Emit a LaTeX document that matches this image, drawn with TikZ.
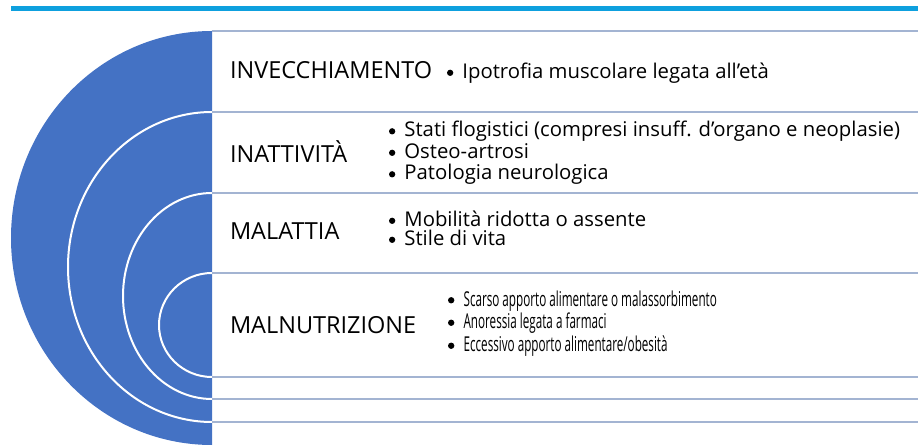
\documentclass[tikz,border=0pt]{standalone}
\usepackage{fontspec}
\setmainfont{Open Sans}
\newfontfamily\narrowfont[FakeStretch=0.57]{Open Sans}
\definecolor{topbar}{RGB}{14,160,222}
\definecolor{halfdisk}{RGB}{68,114,196}
\definecolor{rowline}{RGB}{163,180,210}
\newcommand\bul{\tikz[baseline=0pt]\fill (0pt,0.28em) circle[radius=0.155em];\hspace{0.45em}}

\begin{document}
\begin{tikzpicture}[x=1pt,y=-1pt,
    every node/.style={inner sep=0,outer sep=0,anchor=base west},
    factor/.style={font=\fontsize{23.5}{26}\selectfont},
    entry/.style={font=\fontsize{20.3}{23}\selectfont,text height=14.5pt,text depth=4pt},
    narrowentry/.style={font=\narrowfont\fontsize{20.5}{23}\selectfont,text height=14.5pt,text depth=4pt},
    arcline/.style={white,line width=2}]
    \useasboundingbox (0,0) rectangle (918,446);
    \fill[topbar] (11,6) rectangle (918,11);
    \fill[halfdisk] (212,31) arc[start angle=-90,delta angle=-180,x radius=201,y radius=207] -- cycle;
    \draw[arcline] (212,112) arc[start angle=-90,delta angle=-180,x radius=144,y radius=155];
    \draw[arcline] (212,193) arc[start angle=-90,delta angle=-180,x radius=89,y radius=103];
    \draw[arcline] (212,273) arc[start angle=-90,delta angle=-180,x radius=53,y radius=52];
    \foreach \y in {31,112,193,273,377,399,422}
        \draw[rowline,line width=2] (212,\y) -- (918,\y);

    \node[factor] (inv) at (230,78.5) {INVECCHIAMENTO};
    \node[entry] (inv1) at (447,78.5) {\bul Ipotrofia muscolare legata all'età};

    \node[factor] (ina) at (230,163) {INATTIVITÀ};
    \node[entry] (ina1) at (389,137) {\bul Stati flogistici (compresi insuff. d'organo e neoplasie)};
    \node[entry] (ina2) at (389,158.5) {\bul Osteo-artrosi};
    \node[entry] (ina3) at (389,180) {\bul Patologia neurologica};

    \node[factor] (mal) at (230,240) {MALATTIA};
    \node[entry] (mal1) at (389,226.5) {\bul Mobilità ridotta o assente};
    \node[entry] (mal2) at (389,245.5) {\bul Stile di vita};

    \node[factor] (nut) at (230,333) {MALNUTRIZIONE};
    \node[narrowentry] (nut1) at (448,306) {\bul Scarso apporto alimentare o malassorbimento};
    \node[narrowentry] (nut2) at (448,328.5) {\bul Anoressia legata a farmaci};
    \node[narrowentry] (nut3) at (448,351.5) {\bul Eccessivo apporto alimentare/obesità};
\end{tikzpicture}
\end{document}
